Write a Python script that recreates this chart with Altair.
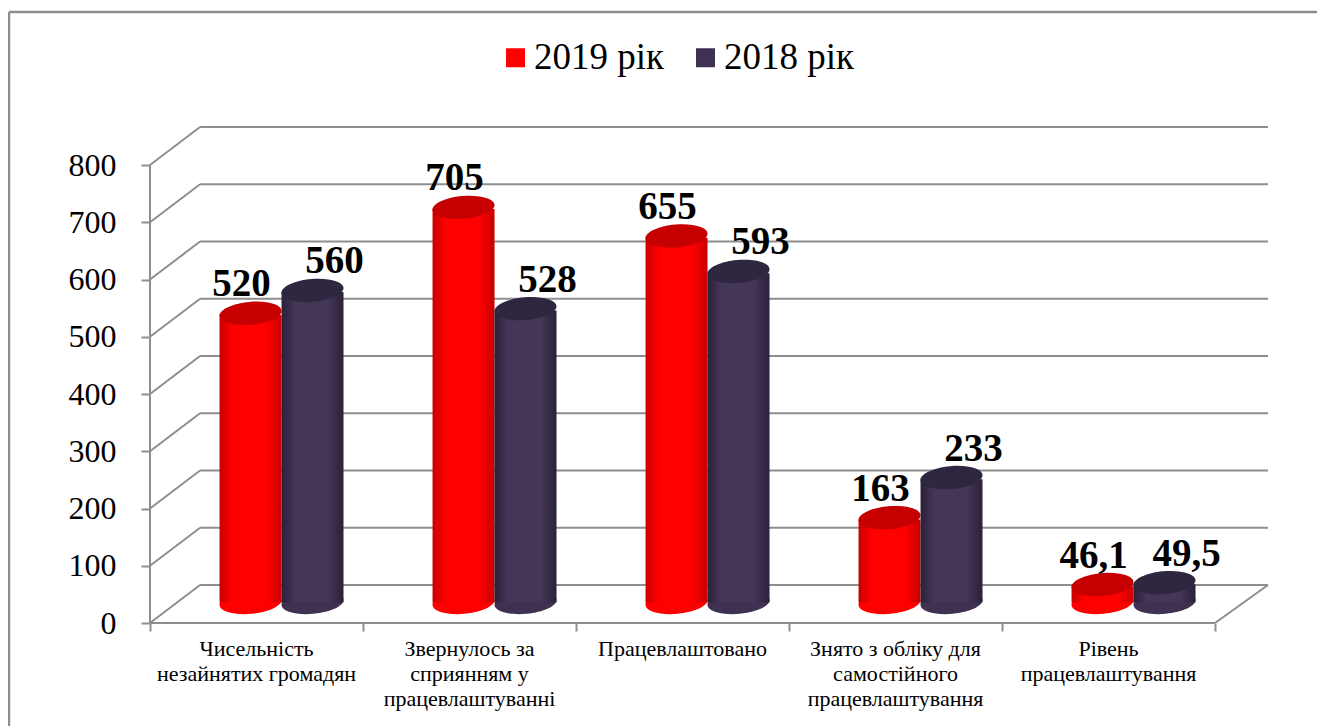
import altair as alt
import pandas as pd

categories = ["Чисельність\nнезайнятих громадян", "Звернулось за\nсприянням у\nпрацевлаштуванні",
              "Працевлаштовано", "Знято з обліку для\nсамостійного\nпрацевлаштування",
              "Рівень\nпрацевлаштування"]
values_2019 = [520, 705, 655, 163, 46.1]
values_2018 = [560, 528, 593, 233, 49.5]
series_names = ["2019 рік", "2018 рік"]
y_ticks = [0, 100, 200, 300, 400, 500, 600, 700, 800]
x_ticks = [0, 1, 2, 3, 4, 5]

W, H = 1118, 496
DX, DXR, DY = 0.235, 0.2488, 66.4      # depth of the 3D box in scale units
BAR_W = 0.291
PX = 62
FONT = "Liberation Serif"
GRID = "#8e8e8e"
TILT = "M-1,0.09 A1.004,0.37 -5 1,1 1,-0.09 A1.004,0.37 -5 1,1 -1,0.09 Z"

rows = []
for i, cat in enumerate(categories):
    for s, vals, sign in ((series_names[0], values_2019, -1), (series_names[1], values_2018, 1)):
        xc = i + 0.5 + DX / 2 + sign * BAR_W / 2
        rows.append(dict(cat=cat, series=s, value=vals[i], label=f"{vals[i]:g}".replace(".", ","),
                         xc=xc, xl=xc - BAR_W / 2, xr=xc + BAR_W / 2,
                         base=36.0, top=vals[i] + 21.0, body=vals[i] + 18.0))
df = pd.DataFrame(rows)

xs = alt.Scale(domain=[0, 5 + DXR], nice=False, zero=False)
ys = alt.Scale(domain=[0, 800 + DY], nice=False, zero=False)
x_axis = alt.Axis(values=x_ticks, grid=False, domain=False, labels=False, tickSize=8, tickWidth=2, tickColor=GRID,
                  title=None)
y_axis = alt.Axis(values=y_ticks, grid=False, domain=False, tickSize=9, tickWidth=2, tickColor=GRID, labelFont=FONT,
                  labelFontSize=32, labelColor="#000000", labelPadding=25, format="d", title=None)
X = lambda f: alt.X(f, type="quantitative", scale=xs, title=None, axis=x_axis)
Y = lambda f: alt.Y(f, type="quantitative", scale=ys, title=None, axis=y_axis)

# 3D box lines
back = pd.DataFrame({"v": [t + DY for t in y_ticks], "a": DX, "b": 5 + DXR})
diag = pd.DataFrame({"v": y_ticks, "v2": [t + DY for t in y_ticks], "a": 0.0, "b": DX})
extra = pd.DataFrame({"a": [0.0, 0.0, 5.0], "b": [0.0, 5.0, 5 + DXR],
                      "v": [0.0, 0.0, 0.0], "v2": [800.0, 0.0, DY]})
lines = [
    alt.Chart(back).mark_rule(color=GRID, strokeWidth=2).encode(x=X("a"), x2="b:Q", y=Y("v")),
    alt.Chart(diag).mark_rule(color=GRID, strokeWidth=2).encode(x=X("a"), x2="b:Q", y=Y("v"), y2="v2:Q"),
    alt.Chart(extra).mark_rule(color=GRID, strokeWidth=2).encode(x=X("a"), x2="b:Q", y=Y("v"), y2="v2:Q"),
]

# outer frame
frame_df = pd.DataFrame({"k": [0]})
frame = [
    alt.Chart(frame_df).mark_rule(color=GRID, strokeWidth=2.5).encode(
        x=alt.value(-141), x2=alt.value(1175), y=alt.value(-115)),
    alt.Chart(frame_df).mark_rule(color=GRID, strokeWidth=2.5).encode(
        x=alt.value(-141), y=alt.value(-115), y2=alt.value(599)),
]


def grad(edge, mid):
    return alt.Gradient(gradient="linear", x1=0, x2=1, y1=0, y2=0,
                        stops=[alt.GradientStop(offset=0, color=edge), alt.GradientStop(offset=0.22, color=mid),
                               alt.GradientStop(offset=0.75, color=mid), alt.GradientStop(offset=1, color=edge)])


bottoms = alt.Chart(df).mark_point(shape=TILT, size=PX * PX, filled=True, opacity=1, strokeWidth=0).encode(
    x=X("xc"), y=Y("base"),
    color=alt.Color("series:N", sort=series_names,
                    scale=alt.Scale(domain=series_names, range=["#ff0000", "#3f3151"]),
                    legend=alt.Legend(title=None, orient="none", legendX=347, legendY=-88, direction="horizontal",
                                      symbolType="square", symbolSize=361, symbolStrokeWidth=0, labelFont=FONT,
                                      labelFontSize=37, labelColor="#000000", labelLimit=300, columnPadding=22,
                                      symbolOffset=0, labelOffset=0, rowPadding=0)))

cyl = []
styles = {series_names[0]: (grad("#c80000", "#ff0000"), "#c60000"),
          series_names[1]: (grad("#2a2138", "#443657"), "#2f2640")}
for s in series_names:
    sub = df[df.series == s]
    g, topc = styles[s]
    cyl.append(alt.Chart(sub).mark_rect(color=g).encode(x=X("xl"), x2="xr:Q", y=Y("base"), y2="body:Q"))
    cyl.append(alt.Chart(sub).mark_point(shape=TILT, size=PX * PX, filled=True, opacity=1, strokeWidth=0,
                                         color=topc).encode(x=X("xc"), y=Y("top")))

# value labels
labels = []
for s, dx in ((series_names[0], -9), (series_names[1], 22)):
    sub = df[df.series == s]
    labels.append(alt.Chart(sub).mark_text(font=FONT, fontSize=39, fontWeight="bold", color="#000000",
                                           dx=dx, dy=-29, baseline="middle").encode(
        x=X("xc"), y=Y("top"), text="label:N"))

cat_df = pd.DataFrame({"cat": categories, "x": [i + 0.5 for i in range(5)]})
cat_text = alt.Chart(cat_df).mark_text(font=FONT, fontSize=22, color="#000000", lineBreak="\n", lineHeight=25,
                                       baseline="top", align="center").encode(
    x=X("x"), y=alt.value(H + 16), text="cat:N")

chart = alt.layer(*frame, *lines, bottoms, *cyl, *labels, cat_text).properties(
    width=W, height=H, background="#ffffff",
    padding={"left": 142, "top": 119, "right": 49, "bottom": 103},
    autosize=alt.AutoSizeParams(type="none"),
).configure_view(stroke=None)

chart.save("out.html", embed_options={"renderer": "svg", "actions": False})
